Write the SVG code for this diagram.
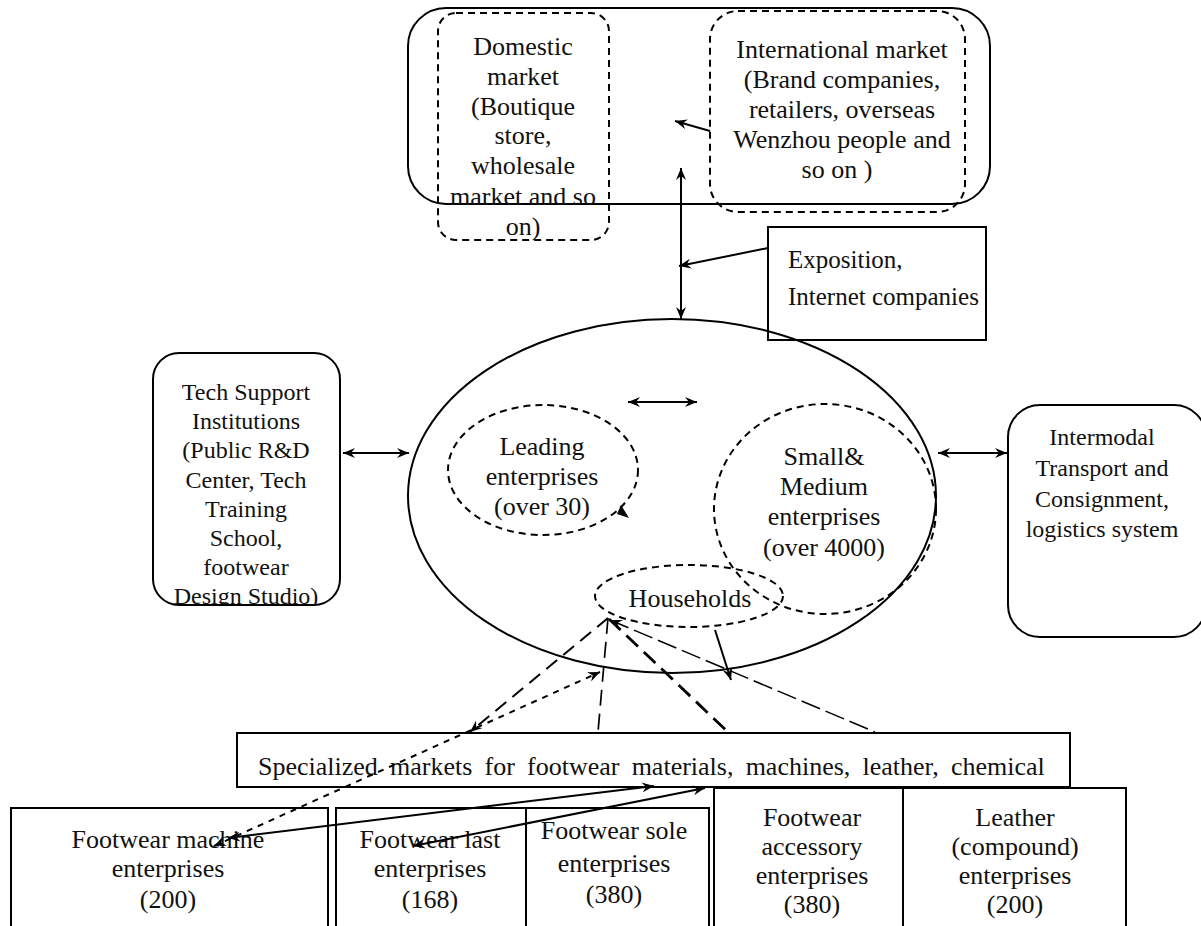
<svg xmlns="http://www.w3.org/2000/svg" width="1201" height="926" viewBox="0 0 1201 926">
<style>
text{font-family:"Liberation Serif","Times New Roman",serif;font-size:26px;fill:#111;text-anchor:middle}
.t24{font-size:24px}
.s{fill:none;stroke:#000;stroke-width:2}
.d{fill:none;stroke:#000;stroke-width:2;stroke-dasharray:7 5}
.sd{fill:none;stroke:#000;stroke-width:2;stroke-dasharray:6 6}
.a{fill:none;stroke:#000;stroke-width:2;marker-end:url(#ah)}
.aa{fill:none;stroke:#000;stroke-width:2;marker-end:url(#ah);marker-start:url(#ahs)}
</style>
<defs>
<marker id="ah" viewBox="0 0 12 10" refX="12" refY="5" markerWidth="12" markerHeight="10" markerUnits="userSpaceOnUse" orient="auto"><path d="M0,0 L12,5 L0,10 L4,5 Z" fill="#000"/></marker>
<marker id="ahs" viewBox="0 0 12 10" refX="0" refY="5" markerWidth="12" markerHeight="10" markerUnits="userSpaceOnUse" orient="auto"><path d="M12,0 L0,5 L12,10 L8,5 Z" fill="#000"/></marker>
<clipPath id="techclip"><rect x="153" y="353" width="187" height="252"/></clipPath>
</defs>
<rect width="1201" height="926" fill="#fff"/>

<g id="markets">
<rect class="s" x="408" y="8" width="582" height="196" rx="38"/>
</g>
<g id="domestic">
<rect class="d" x="438" y="13" width="171" height="227" rx="18"/>
<text x="523" y="55">Domestic</text>
<text x="523" y="85">market</text>
<text x="523" y="115">(Boutique</text>
<text x="523" y="144">store,</text>
<text x="523" y="174">wholesale</text>
<text x="523" y="205">market and so</text>
<text x="523" y="235">on)</text>
</g>
<g id="international">
<rect class="d" x="710" y="11" width="255" height="201" rx="28"/>
<text x="842" y="58">International market</text>
<text x="842" y="88">(Brand companies,</text>
<text x="842" y="118">retailers, overseas</text>
<text x="842" y="148">Wenzhou people and</text>
<text x="837" y="178">so on )</text>
</g>
<g id="exposition">
<rect class="s" x="768" y="227" width="218" height="113" fill="#fff"/>
<text x="788" y="268" style="text-anchor:start;font-size:25px">Exposition,</text>
<text x="788" y="305" style="text-anchor:start;font-size:25px">Internet companies</text>
</g>
<g id="cluster">
<ellipse class="s" cx="672" cy="496" rx="264" ry="177"/>
</g>
<g id="leading">
<ellipse class="d" cx="543" cy="470" rx="95" ry="65"/>
<text x="542" y="455">Leading</text>
<text x="542" y="485">enterprises</text>
<text x="542" y="515">(over 30)</text>
</g>
<g id="sme">
<ellipse class="d" cx="825" cy="509" rx="111" ry="105"/>
<text x="824" y="465">Small&amp;</text>
<text x="824" y="495">Medium</text>
<text x="824" y="525">enterprises</text>
<text x="824" y="556">(over 4000)</text>
</g>
<g id="households">
<ellipse class="d" cx="689" cy="596" rx="94" ry="31" fill="#fff"/>
<text x="690" y="607">Households</text>
</g>
<g id="tech">
<rect class="s" x="153" y="353" width="187" height="252" rx="26"/>
<g clip-path="url(#techclip)">
<text class="t24" x="246" y="400">Tech Support</text>
<text class="t24" x="246" y="429">Institutions</text>
<text class="t24" x="246" y="458">(Public R&amp;D</text>
<text class="t24" x="246" y="488">Center, Tech</text>
<text class="t24" x="246" y="517">Training</text>
<text class="t24" x="246" y="546">School,</text>
<text class="t24" x="246" y="575">footwear</text>
<text class="t24" x="246" y="604">Design Studio)</text>
</g>
</g>
<g id="logistics">
<rect class="s" x="1008" y="405" width="198" height="232" rx="32"/>
<text class="t24" x="1102" y="445">Intermodal</text>
<text class="t24" x="1102" y="476">Transport and</text>
<text class="t24" x="1102" y="507">Consignment,</text>
<text class="t24" x="1102" y="537">logistics system</text>
</g>
<g id="specialized">
<rect class="s" x="237" y="733" width="833" height="54" fill="#fff"/>
<text x="258" y="775" style="text-anchor:start;word-spacing:5.7px">Specialized markets for footwear materials, machines, leather, chemical</text>
</g>
<g id="machine">
<rect class="s" x="11" y="808" width="317" height="140"/>
<text x="168" y="848">Footwear machine</text>
<text x="168" y="877">enterprises</text>
<text x="168" y="908">(200)</text>
</g>
<g id="last">
<rect class="s" x="336" y="808" width="190" height="140"/>
<text x="430" y="848">Footwear last</text>
<text x="430" y="877">enterprises</text>
<text x="430" y="908">(168)</text>
</g>
<g id="sole">
<rect class="s" x="526" y="808" width="183" height="140"/>
<text x="614" y="839">Footwear sole</text>
<text x="614" y="872">enterprises</text>
<text x="614" y="903">(380)</text>
</g>
<g id="accessory">
<rect class="s" x="714" y="788" width="189" height="160"/>
<text x="812" y="826">Footwear</text>
<text x="812" y="855">accessory</text>
<text x="812" y="884">enterprises</text>
<text x="812" y="913">(380)</text>
</g>
<g id="leather">
<rect class="s" x="903" y="788" width="223" height="160"/>
<text x="1015" y="826">Leather</text>
<text x="1015" y="855">(compound)</text>
<text x="1015" y="884">enterprises</text>
<text x="1015" y="913">(200)</text>
</g>

<g id="connectors">
<line class="a" x1="710" y1="131" x2="675" y2="121"/>
<line class="aa" x1="681" y1="319" x2="681" y2="168"/>
<line class="a" x1="768" y1="248" x2="679" y2="266"/>
<line class="aa" x1="343" y1="453" x2="409" y2="453"/>
<line class="aa" x1="938" y1="453" x2="1007" y2="453"/>
<line class="aa" x1="628" y1="402" x2="697" y2="402"/>
<path d="M621,505 L629,518 L617,514 Z" fill="#000"/>
<line class="a" x1="715" y1="630" x2="731" y2="680"/>
<line x1="608" y1="618" x2="470" y2="732" style="fill:none;stroke:#000;stroke-width:2;stroke-dasharray:14 8;marker-end:url(#ah)"/>
<line x1="608" y1="618" x2="598" y2="732" style="fill:none;stroke:#000;stroke-width:1.7;stroke-dasharray:16 8"/>
<line x1="609" y1="619" x2="728" y2="732" style="fill:none;stroke:#000;stroke-width:2.8;stroke-dasharray:16 8"/>
<line x1="610" y1="620" x2="875" y2="732" style="fill:none;stroke:#000;stroke-width:1.5;stroke-dasharray:20 6;marker-start:url(#ahs)"/>
<line class="sd" x1="214" y1="846" x2="600" y2="672" style="marker-end:url(#ah);marker-start:url(#ahs)"/>
<line class="aa" x1="228" y1="838" x2="654" y2="786"/>
<line class="aa" x1="413" y1="846" x2="705" y2="788"/>
</g>
</svg>
